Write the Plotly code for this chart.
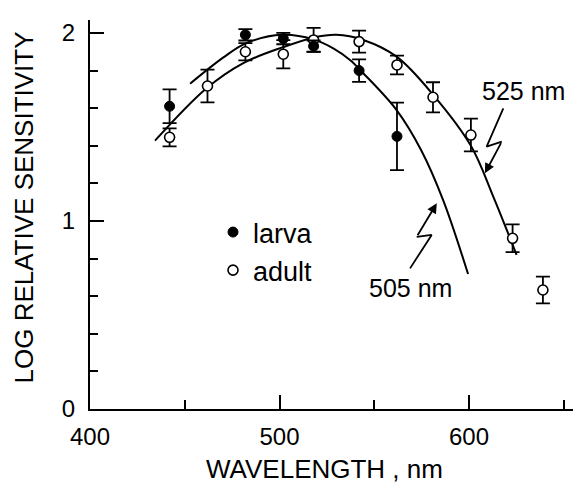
import plotly.graph_objects as go

# ---- data ----
larva_wl = [442, 482, 502, 518, 542, 562]
larva_val = [1.61, 1.99, 1.97, 1.93, 1.80, 1.45]
larva_err = [0.09, 0.03, 0.03, 0.03, 0.06, 0.18]

adult_wl = [442, 462, 482, 502, 518, 542, 562, 581, 601, 623, 639]
adult_val = [1.445, 1.718, 1.90, 1.887, 1.963, 1.954, 1.83, 1.658, 1.457, 0.908, 0.633]
adult_err = [0.048, 0.087, 0.046, 0.075, 0.064, 0.058, 0.05, 0.08, 0.087, 0.074, 0.071]

curve505_wl = [452.8, 470.4, 482.2, 501.5, 517.9, 528.4, 537.2, 544.2, 561.8, 574.7, 586.4, 599.5]
curve505_val = [1.73, 1.87, 1.945, 1.99, 1.966, 1.918, 1.856, 1.786, 1.59, 1.378, 1.11, 0.718]

curve525_wl = [434.3, 461.5, 480.9, 502.0, 517.9, 530.0, 544.2, 561.8, 581.2, 601.0, 612.8, 625.1]
curve525_val = [1.427, 1.706, 1.84, 1.925, 1.975, 1.99, 1.963, 1.874, 1.67, 1.40, 1.13, 0.82]

# lightning-bolt pointers (wavelength, value)
bolt525_wl = [618.1, 609.3, 617.3, 608.4]
bolt525_val = [1.599, 1.395, 1.422, 1.254]
bolt505_wl = [568.9, 580.3, 572.4, 583.0]
bolt505_val = [0.748, 0.926, 0.916, 1.094]

x_ticks = [400, 500, 600]
y_ticks = [0, 1, 2]

FONT = "Liberation Sans, Arial, sans-serif"

fig = go.Figure()

fig.add_trace(go.Scatter(x=curve505_wl, y=curve505_val, mode="lines", line=dict(color="black", width=2, shape="spline"),
                         showlegend=False, hoverinfo="skip"))
fig.add_trace(go.Scatter(x=curve525_wl, y=curve525_val, mode="lines", line=dict(color="black", width=2, shape="spline"),
                         showlegend=False, hoverinfo="skip"))

# bolts (all but last segment drawn as lines, last segment as arrow)
fig.add_trace(go.Scatter(x=bolt525_wl[:3], y=bolt525_val[:3], mode="lines", line=dict(color="black", width=1.8),
                         showlegend=False, hoverinfo="skip"))
fig.add_trace(go.Scatter(x=bolt505_wl[:3], y=bolt505_val[:3], mode="lines", line=dict(color="black", width=1.8),
                         showlegend=False, hoverinfo="skip"))

fig.add_trace(go.Scatter(x=adult_wl, y=adult_val, mode="markers", name="adult",
                         marker=dict(symbol="circle", size=10, color="white", line=dict(color="black", width=1.6)),
                         error_y=dict(type="data", array=adult_err, color="black", thickness=1.8, width=7)))
fig.add_trace(go.Scatter(x=larva_wl, y=larva_val, mode="markers", name="larva",
                         marker=dict(symbol="circle", size=10, color="black", line=dict(color="black", width=1)),
                         error_y=dict(type="data", array=larva_err, color="black", thickness=1.8, width=7)))

annotations = []
for bw, bv in ((bolt525_wl, bolt525_val), (bolt505_wl, bolt505_val)):
    annotations.append(dict(x=bw[3], y=bv[3], ax=bw[2], ay=bv[2], xref="x", yref="y", axref="x", ayref="y",
                            text="", showarrow=True, arrowhead=2, arrowsize=1.1, arrowwidth=1.8, arrowcolor="black"))
annotations.append(dict(x=628.5, y=1.691, xref="x", yref="y", text="525 nm", showarrow=False,
                        font=dict(family=FONT, size=25, color="black")))
annotations.append(dict(x=568.9, y=0.644, xref="x", yref="y", text="505 nm", showarrow=False,
                        font=dict(family=FONT, size=25, color="black")))
annotations.append(dict(x=0, y=0.5, xref="paper", yref="paper", xanchor="center", yanchor="middle",
                        xshift=-67, yshift=7, text="LOG RELATIVE SENSITIVITY",
                        textangle=-90, showarrow=False, font=dict(family=FONT, size=26, color="black")))
annotations.append(dict(x=(324 - 90) / 491, y=0, xref="paper", yref="paper", xanchor="center", yanchor="middle",
                        yshift=-60, text="WAVELENGTH , nm",
                        showarrow=False, font=dict(family=FONT, size=26, color="black")))

# the page body has an 8px margin, so the figure is 8px smaller and margins are reduced accordingly
fig.update_layout(
    width=573, height=486,
    margin=dict(l=82, r=0, t=12, b=85),
    paper_bgcolor="white", plot_bgcolor="white",
    font=dict(family=FONT, size=24, color="black"),
    showlegend=True,
    legend=dict(x=(213 - 90) / 491, y=(409 - 208) / 389, xanchor="left", yanchor="top",
                bgcolor="rgba(0,0,0,0)", font=dict(family=FONT, size=27, color="black"),
                traceorder="reversed", itemwidth=30),
    annotations=annotations,
)

fig.update_xaxes(range=[400, 659.1], showgrid=False, zeroline=False, showline=True, linecolor="black", linewidth=2,
                 tickmode="array", tickvals=x_ticks, ticks="inside", ticklen=14, tickwidth=2, tickcolor="black",
                 ticklabelstandoff=5,
                 minor=dict(tickmode="array", tickvals=[450, 550, 650], ticks="inside", ticklen=9, tickwidth=2, tickcolor="black"))
fig.update_yaxes(range=[0, 2.069], showgrid=False, zeroline=False, showline=True, linecolor="black", linewidth=2,
                 tickmode="array", tickvals=y_ticks, ticks="inside", ticklen=14, tickwidth=2, tickcolor="black",
                 ticklabelstandoff=8,
                 minor=dict(dtick=0.2, tick0=0, ticks="inside", ticklen=8, tickwidth=2, tickcolor="black"))

fig.write_html("out.html")
